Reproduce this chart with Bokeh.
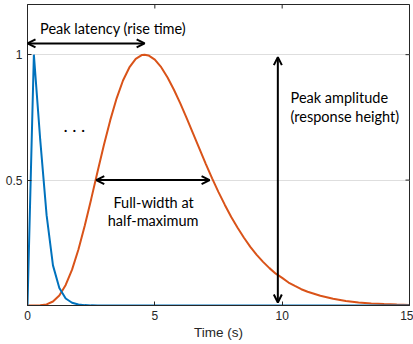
import math
from bokeh.plotting import figure
from bokeh.models import FixedTicker, Range1d, Label, Arrow, OpenHead
from bokeh.embed import file_html
from bokeh.resources import INLINE

# --- data ---
time_fast = [0, 0.25, 0.5, 0.75, 1.0, 1.25, 1.5, 1.75, 2.0, 2.25, 2.5, 2.75, 3.0, 15]
resp_fast = [0, 1.0, 0.66, 0.36, 0.16, 0.07, 0.028, 0.011, 0.004, 0.0015, 0.0005, 0.0002, 0.0, 0.0]

time_slow = [0, 0.5, 0.75, 1.0, 1.25, 1.5, 1.75, 2.0, 2.25, 2.5, 2.75, 3.0, 3.25, 3.5, 3.75,
             4.0, 4.25, 4.5, 4.6, 4.75, 5.0, 5.25, 5.5, 5.75, 6.0, 6.25, 6.5, 6.75, 7.0, 7.25,
             7.5, 7.75, 8.0, 8.25, 8.5, 8.75, 9.0, 9.25, 9.5, 9.75, 10.0, 10.25, 10.5, 10.75,
             11.0, 11.5, 12.0, 12.5, 13.0, 13.5, 14.0, 14.5, 15.0]
resp_slow = [0, 0.0006, 0.0042, 0.016, 0.040, 0.082, 0.143, 0.223, 0.319, 0.424, 0.533, 0.640,
             0.739, 0.826, 0.897, 0.949, 0.983, 0.999, 1.0, 0.997, 0.980, 0.950, 0.909, 0.860,
             0.806, 0.747, 0.686, 0.625, 0.565, 0.507, 0.452, 0.401, 0.353, 0.310, 0.270, 0.234,
             0.202, 0.174, 0.149, 0.127, 0.110, 0.0915, 0.078, 0.065, 0.055, 0.039, 0.027,
             0.018, 0.012, 0.008, 0.0055, 0.0036, 0.0024]

x_ticks = [0, 5, 10, 15]
y_ticks = [0.5, 1]
x_label = "Time (s)"
X_MIN, X_MAX = 0, 15
Y_MIN, Y_MAX = 0, 1.2

# annotation anchors (data units)
latency_arrow = dict(x0=0.0, x1=4.6, y=1.045)
fwhm_arrow = dict(x0=2.7, x1=7.15, y=0.5)
amp_arrow = dict(x=9.83, y0=0.012, y1=0.99)

BLUE = "#0072BD"
ORANGE = "#D95319"
AX = "#262626"
ANN_FONT = "Lato"
ANN_SIZE = "14.5px"
TICK_FONT = "Liberation Sans"

p = figure(width=413, height=344, x_range=Range1d(X_MIN, X_MAX), y_range=Range1d(Y_MIN, Y_MAX),
           output_backend="svg", toolbar_location=None,
           min_border_left=27, min_border_right=4, min_border_top=4, min_border_bottom=39,
           background_fill_color="white", border_fill_color="white")

p.outline_line_color = AX
p.outline_line_width = 1

# axes
for ax in (p.xaxis[0], p.yaxis[0]):
    ax.axis_line_color = AX
    ax.major_tick_line_color = AX
    ax.major_tick_in = 4
    ax.major_tick_out = 0
    ax.minor_tick_line_color = None
    ax.major_label_text_font = TICK_FONT
    ax.major_label_text_font_size = "12px"
    ax.major_label_text_color = AX

p.xaxis.ticker = FixedTicker(ticks=x_ticks)
p.yaxis.ticker = FixedTicker(ticks=y_ticks)
p.yaxis.major_label_overrides = {0.5: "0.5", 1: "1"}
p.xaxis.major_label_overrides = {0: "0", 5: "5", 10: "10", 15: "15"}
p.xaxis.major_label_standoff = 5
p.yaxis.major_label_standoff = 5
p.xaxis.axis_label = x_label
p.xaxis.axis_label_text_font = TICK_FONT
p.xaxis.axis_label_text_font_size = "13.5px"
p.xaxis.axis_label_text_font_style = "normal"
p.xaxis.axis_label_text_color = AX
p.xaxis.axis_label_standoff = 2

# grid
p.xgrid.grid_line_color = None
p.ygrid.ticker = FixedTicker(ticks=y_ticks)
p.ygrid.grid_line_color = "#dedede"
p.ygrid.grid_line_width = 1

# top / right inward tick marks (box style); half of each dash is clipped by the frame
p.scatter(x_ticks, [Y_MAX] * len(x_ticks), marker="dash", size=8, angle=math.pi / 2,
          line_color=AX, line_width=1)
p.scatter([X_MAX] * len(y_ticks), y_ticks, marker="dash", size=8,
          line_color=AX, line_width=1)

# curves
p.line(time_slow, resp_slow, line_color=ORANGE, line_width=2)
p.line(time_fast, resp_fast, line_color=BLUE, line_width=2)

# arrows
def dbl(x0, y0, x1, y1):
    p.add_layout(Arrow(x_start=x0, y_start=y0, x_end=x1, y_end=y1,
                       line_color="black", line_width=2,
                       start=OpenHead(size=8, line_width=2, line_color="black"),
                       end=OpenHead(size=8, line_width=2, line_color="black")))

dbl(latency_arrow["x0"], latency_arrow["y"], latency_arrow["x1"], latency_arrow["y"])
dbl(fwhm_arrow["x0"], fwhm_arrow["y"], fwhm_arrow["x1"], fwhm_arrow["y"])
dbl(amp_arrow["x"], amp_arrow["y0"], amp_arrow["x"], amp_arrow["y1"])

# labels
def lab(x, y, text, align="center", baseline="middle", size=ANN_SIZE):
    p.add_layout(Label(x=x, y=y, text=text, text_align=align, text_baseline=baseline,
                       text_font=ANN_FONT, text_font_size=size, text_color="black"))

lab(3.36, 1.104, "Peak latency (rise time)")
lab(10.33, 0.83, "Peak amplitude", align="left")
lab(10.33, 0.753, "(response height)", align="left")
lab(4.95, 0.41, "Full-width at")
lab(4.93, 0.339, "half-maximum")
lab(1.84, 0.72, ". . .", baseline="alphabetic", size="18px")

open("out.html", "w").write(file_html(p, INLINE))
